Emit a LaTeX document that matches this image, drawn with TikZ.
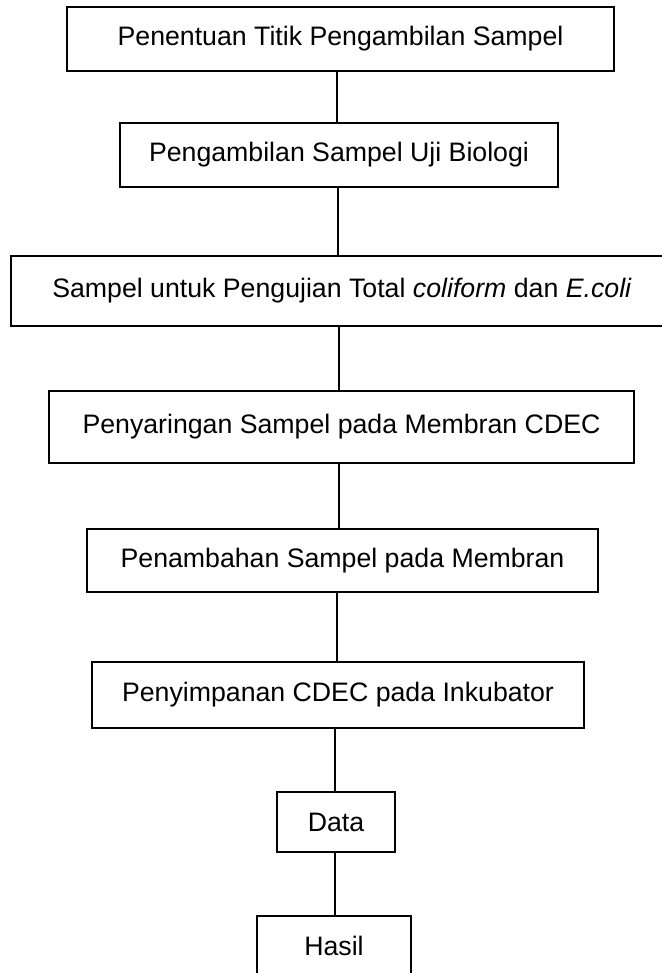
\documentclass[tikz,border=0pt]{standalone}
\usepackage{fontspec}
\setmainfont{Liberation Sans}
\usetikzlibrary{positioning}

\begin{document}
\begin{tikzpicture}[x = 0.5pt, y = -0.5pt, semithick,
step_box/.style = { rectangle, draw, inner sep = 0pt, font = \fontsize{13.35}{16}\selectfont},
link/.style = { color = black }]
\clip (0,0) rectangle (662,973);
\node[step_box, minimum width = 273.5pt, minimum height = 32pt] (penentuan) at (340.5,39) {Penentuan Titik Pengambilan Sampel};
\node[step_box, minimum width = 219pt, minimum height = 32pt] (pengambilan) at (339,155) {Pengambilan Sampel Uji Biologi};
\node[step_box, minimum width = 331pt, minimum height = 35pt] (sampel) at (342,291) {Sampel untuk Pengujian Total \textit{coliform} dan \textit{E.coli}};
\node[step_box, minimum width = 292.5pt, minimum height = 36pt] (penyaringan) at (341.5,427) {Penyaringan Sampel pada Membran CDEC};
\node[step_box, minimum width = 255.5pt, minimum height = 31.5pt] (penambahan) at (342.5,560.5) {Penambahan Sampel pada Membran};
\node[step_box, minimum width = 246pt, minimum height = 33pt] (penyimpanan) at (338,695) {Penyimpanan CDEC pada Inkubator};
\node[step_box, minimum width = 59pt, minimum height = 30pt] (data) at (336,822) {Data};
\node[step_box, minimum width = 77pt, minimum height = 30pt] (hasil) at (334,946) {Hasil};
\path[link] (pengambilan.north -| 337,0) edge (penentuan.south -| 337,0);
\path[link] (sampel.north -| 338,0) edge (pengambilan.south -| 338,0);
\path[link] (penyaringan.north -| 339,0) edge (sampel.south -| 339,0);
\path[link] (penambahan.north -| 339,0) edge (penyaringan.south -| 339,0);
\path[link] (penyimpanan.north -| 337,0) edge (penambahan.south -| 337,0);
\path[link] (data.north -| 335,0) edge (penyimpanan.south -| 335,0);
\path[link] (hasil.north -| 335,0) edge (data.south -| 335,0);
\end{tikzpicture}
\end{document}
